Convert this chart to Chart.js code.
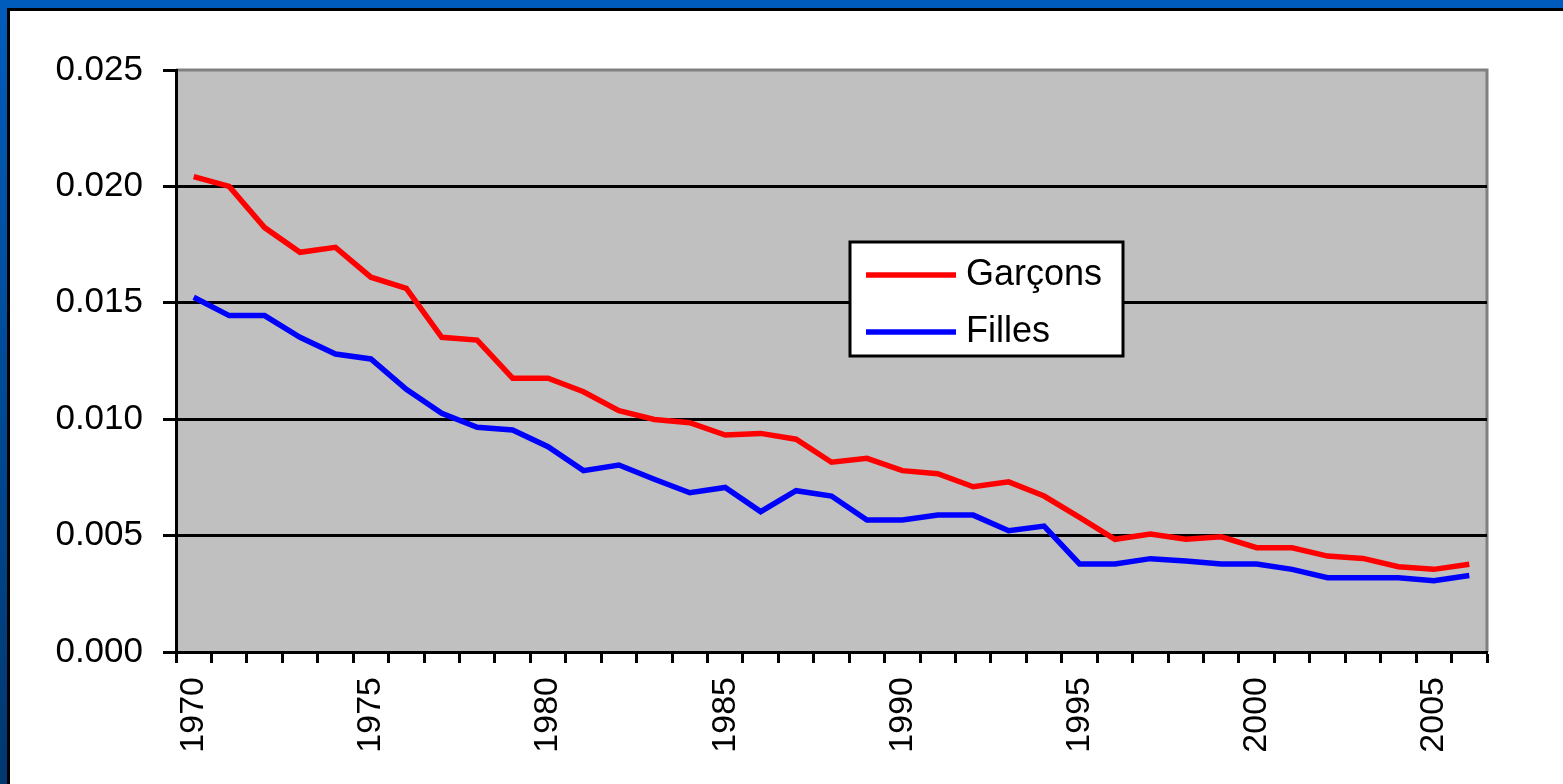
<!DOCTYPE html>
<html>
<head>
<meta charset="utf-8">
<script src="https://cdn.jsdelivr.net/npm/chart.js@4/dist/chart.umd.min.js"></script>
<style>
  html, body { margin: 0; padding: 0; background: #fff; overflow: hidden; }
  .f { position: absolute; }
  #c { position: absolute; left: 0; top: 0; }
</style>
</head>
<body>
<div class="f" style="left:0;top:0;width:1563px;height:8px;background:#005CBC;"></div>
<div class="f" style="left:0;top:0;width:7px;height:784px;background:linear-gradient(#005CBC,#00386F);"></div>
<div class="f" style="left:7px;top:8px;width:1556px;height:3px;background:#000;"></div>
<div class="f" style="left:7px;top:8px;width:3px;height:776px;background:#000;"></div>
<canvas id="c" width="1563" height="784"></canvas>
<script>
const years = ['1970','1971','1972','1973','1974','1975','1976','1977','1978','1979',
  '1980','1981','1982','1983','1984','1985','1986','1987','1988','1989',
  '1990','1991','1992','1993','1994','1995','1996','1997','1998','1999',
  '2000','2001','2002','2003','2004','2005','2006'];
const shownYears = ['1970','1975','1980','1985','1990','1995','2000','2005'];
const garcons = [0.02042, 0.0200, 0.01823, 0.01717, 0.01738, 0.01610, 0.01562, 0.01352, 0.01340, 0.01176,
  0.01176, 0.01118, 0.01037, 0.00999, 0.00985, 0.00932, 0.00939, 0.00914, 0.00815, 0.00832,
  0.00779, 0.00766, 0.00710, 0.00731, 0.00670, 0.00578, 0.00484, 0.00507, 0.00484, 0.00495,
  0.00448, 0.00448, 0.00412, 0.00402, 0.00366, 0.00355, 0.00377];
const filles = [0.01524, 0.01445, 0.01445, 0.01352, 0.01280, 0.01259, 0.01128, 0.01025, 0.00965, 0.00954,
  0.00882, 0.00779, 0.00803, 0.00742, 0.00684, 0.00707, 0.00603, 0.00693, 0.00670, 0.00567,
  0.00567, 0.00588, 0.00588, 0.00521, 0.00541, 0.00378, 0.00378, 0.00401, 0.00391, 0.00378,
  0.00378, 0.00355, 0.00319, 0.00319, 0.00319, 0.00306, 0.00329];
const seriesNames = ['Garçons', 'Filles'];
const yTicks = [0, 0.005, 0.010, 0.015, 0.020, 0.025];

const FONT = "'Liberation Sans', Arial, sans-serif";

const plotBg = {
  id: 'plotBg',
  beforeDraw(chart) {
    const {ctx, chartArea: a} = chart;
    ctx.save();
    ctx.fillStyle = '#C0C0C0';
    ctx.fillRect(a.left, a.top, a.right - a.left, a.bottom - a.top);
    ctx.strokeStyle = '#808080';
    ctx.lineWidth = 3;
    ctx.beginPath();
    ctx.moveTo(a.left, a.top);
    ctx.lineTo(a.right, a.top);
    ctx.lineTo(a.right, a.bottom);
    ctx.stroke();
    ctx.restore();
  }
};

const boxLegend = {
  id: 'boxLegend',
  afterDatasetsDraw(chart) {
    const {ctx, chartArea: a} = chart;
    const x = a.left + 674, y = a.top + 172, w = 273, h = 114;
    ctx.save();
    ctx.fillStyle = '#fff';
    ctx.fillRect(x, y, w, h);
    ctx.strokeStyle = '#000';
    ctx.lineWidth = 3;
    ctx.strokeRect(x, y, w, h);
    chart.data.datasets.forEach((ds, i) => {
      const ly = y + 33 + i * 57;
      ctx.strokeStyle = ds.borderColor;
      ctx.lineWidth = 5.5;
      ctx.beginPath();
      ctx.moveTo(x + 16, ly);
      ctx.lineTo(x + 106, ly);
      ctx.stroke();
      ctx.fillStyle = '#000';
      ctx.font = '36px ' + FONT;
      ctx.textBaseline = 'middle';
      ctx.textAlign = 'left';
      ctx.fillText(ds.label, x + 116, ly);
    });
    ctx.restore();
  }
};

new Chart(document.getElementById('c'), {
  type: 'line',
  data: {
    labels: years,
    datasets: [
      { label: seriesNames[0], data: garcons, borderColor: '#FF0000', borderWidth: 5.5, pointRadius: 0, tension: 0, fill: false },
      { label: seriesNames[1], data: filles, borderColor: '#0000FF', borderWidth: 5.5, pointRadius: 0, tension: 0, fill: false }
    ]
  },
  options: {
    responsive: false,
    animation: false,
    devicePixelRatio: 1,
    layout: { padding: { left: 0, top: 70, right: 76, bottom: 0 } },
    plugins: { legend: { display: false }, tooltip: { enabled: false } },
    scales: {
      x: {
        offset: true,
        grid: { offset: true, drawOnChartArea: false, drawTicks: true, tickLength: 11, tickColor: '#000', tickWidth: 3 },
        border: { color: '#000', width: 3 },
        ticks: {
          autoSkip: false, maxRotation: 90, minRotation: 90, padding: 14,
          color: '#000', font: { family: FONT, size: 34 },
          callback(v, i) { const l = years[i]; return shownYears.includes(l) ? l : ''; }
        },
        afterFit(s) { s.height = 132; }
      },
      y: {
        min: yTicks[0], max: yTicks[yTicks.length - 1],
        afterBuildTicks(s) { s.ticks = yTicks.map(v => ({ value: v })); },
        grid: {
          color: (c) => (c.tick && c.tick.value >= 0.025) ? 'rgba(0,0,0,0)' : '#000',
          lineWidth: 3, tickLength: 13, tickColor: '#000', tickWidth: 3
        },
        border: { color: '#000', width: 3 },
        ticks: {
          padding: 20, color: '#000', font: { family: FONT, size: 35 },
          callback(v) { return Number(v).toFixed(3); }
        },
        afterFit(s) { s.width = 176; }
      }
    }
  },
  plugins: [plotBg, boxLegend]
});
</script>
</body>
</html>
